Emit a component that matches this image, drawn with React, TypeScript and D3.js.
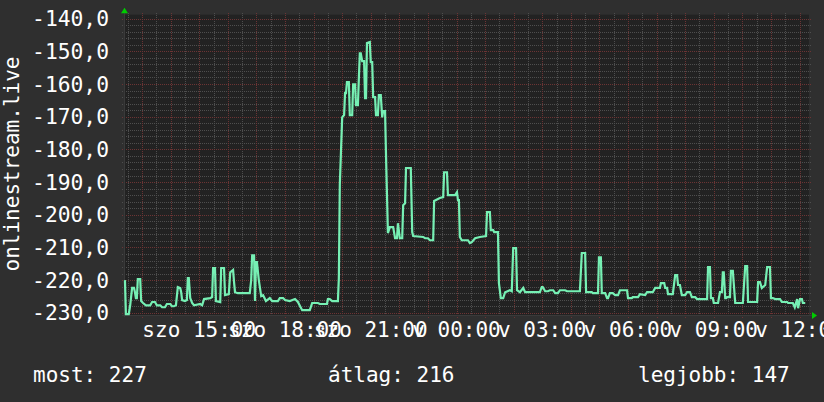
import React from "react";
import * as d3 from "d3";

// minutes after the window start (Sat 12:22) and the measured value at that time
const minutes = [
  2, 4, 10, 13, 17, 21, 23, 25, 27, 29, 34, 36, 40, 46, 55, 59, 65, 69, 76, 80,
  86, 90, 97, 101, 105, 109, 113, 118, 120, 122, 128, 132, 134, 136, 139, 143, 147, 160, 164, 168,
  181, 185, 187, 191, 193, 202, 204, 210, 212, 220, 223, 229, 231, 233, 239, 264, 267, 269, 273, 275,
  277, 279, 283, 288, 292, 298, 306, 311, 323, 327, 334, 338, 348, 359, 365, 374, 390, 395, 407, 411,
  426, 428, 432, 437, 449, 451, 453, 458, 462, 464, 466, 468, 472, 474, 479, 481, 485, 487, 491, 493,
  495, 497, 500, 504, 506, 508, 510, 516, 518, 521, 523, 527, 529, 533, 535, 539, 542, 544, 548, 550,
  554, 558, 565, 569, 573, 575, 579, 584, 586, 590, 592, 602, 605, 607, 628, 632, 638, 642, 649, 651,
  663, 670, 672, 678, 680, 695, 699, 701, 703, 705, 709, 722, 726, 730, 737, 747, 760, 762, 768, 770,
  775, 777, 785, 787, 791, 796, 800, 810, 814, 817, 823, 825, 831, 838, 842, 856, 873, 877, 879, 884,
  890, 894, 901, 905, 911, 915, 926, 930, 957, 961, 968, 970, 982, 984, 995, 997, 1001, 1003, 1010, 1014,
  1016, 1020, 1026, 1031, 1037, 1041, 1056, 1058, 1066, 1068, 1079, 1083, 1094, 1098, 1110, 1115, 1125, 1127, 1134, 1136,
  1140, 1142, 1152, 1157, 1161, 1163, 1167, 1171, 1178, 1182, 1188, 1192, 1199, 1203, 1224, 1226, 1230, 1232, 1236, 1238,
  1247, 1251, 1255, 1257, 1259, 1262, 1264, 1266, 1272, 1274, 1278, 1283, 1299, 1304, 1308, 1310, 1329, 1331, 1335, 1339,
  1346, 1350, 1356, 1358, 1362, 1367, 1377, 1381, 1392, 1394, 1404, 1408, 1413, 1415, 1419, 1423, 1425, 1430,
];

const values = [
  -220.0, -230.4, -230.4, -227.7, -222.4, -222.4, -223.7, -225.5, -225.5, -219.7, -219.7, -226.4, -227.0, -227.7, -227.7, -226.7, -226.7, -227.7, -227.7, -228.3,
  -228.3, -227.3, -227.3, -228.0, -228.0, -227.7, -222.1, -222.4, -223.7, -226.1, -226.4, -226.1, -219.4, -219.4, -225.5, -227.0, -227.7, -227.3, -227.7, -225.8,
  -225.5, -225.2, -216.3, -216.3, -226.4, -226.7, -216.3, -216.3, -224.6, -224.3, -217.6, -216.9, -220.6, -223.7, -224.0, -224.0, -220.0, -212.4, -212.4, -226.4,
  -214.5, -214.5, -220.0, -224.9, -224.6, -226.4, -225.5, -226.4, -226.4, -225.5, -225.5, -226.1, -226.4, -225.8, -226.7, -229.2, -229.2, -227.0, -227.0, -227.3,
  -227.3, -225.8, -225.8, -226.4, -226.4, -219.4, -190.9, -170.2, -169.5, -162.8, -162.8, -159.4, -159.4, -169.5, -169.5, -160.1, -160.1, -166.5, -166.5, -158.2,
  -150.6, -150.6, -153.0, -153.0, -164.3, -164.3, -147.5, -147.2, -153.3, -153.3, -164.0, -164.0, -169.5, -169.5, -163.4, -163.4, -170.2, -168.3, -168.3, -181.8,
  -205.6, -203.8, -203.8, -207.2, -207.2, -202.6, -207.2, -207.2, -197.1, -196.5, -185.7, -185.7, -205.3, -206.5, -206.8, -207.2, -207.2, -207.8, -207.8, -195.8,
  -194.9, -194.6, -187.0, -187.0, -194.0, -194.0, -193.1, -195.5, -195.5, -206.8, -207.8, -207.8, -208.7, -208.4, -207.2, -206.8, -206.5, -199.2, -199.2, -204.7,
  -204.7, -205.3, -205.3, -220.9, -225.5, -225.5, -223.7, -223.1, -223.4, -210.2, -210.2, -223.1, -223.7, -222.4, -223.7, -223.7, -223.7, -222.1, -222.1, -223.4,
  -223.4, -223.1, -223.1, -224.0, -224.0, -223.1, -223.1, -223.4, -223.4, -211.7, -211.7, -223.7, -223.7, -224.0, -224.0, -213.0, -213.0, -224.0, -224.0, -225.5,
  -225.5, -224.0, -224.0, -224.6, -224.6, -223.1, -223.1, -225.5, -225.5, -225.2, -225.2, -224.3, -224.6, -223.7, -223.7, -222.4, -222.4, -220.9, -220.9, -222.4,
  -222.4, -224.3, -224.3, -218.5, -218.5, -221.5, -221.5, -224.6, -224.6, -223.7, -223.7, -225.2, -225.2, -225.8, -225.8, -216.0, -216.0, -225.5, -225.5, -227.0,
  -227.0, -223.7, -223.7, -217.6, -217.6, -225.5, -225.5, -225.2, -225.2, -217.2, -217.2, -227.0, -227.0, -215.7, -215.7, -226.7, -226.7, -220.6, -220.6, -222.4,
  -221.5, -216.0, -216.0, -225.5, -225.5, -225.8, -225.8, -226.7, -226.7, -227.0, -227.0, -228.3, -225.8, -228.6, -225.8, -225.8, -227.0, -227.0,
];

const yTicks = [-230, -220, -210, -200, -190, -180, -170, -160, -150, -140];
const dayNames = ["v", "h", "k", "sze", "cs", "p", "szo"];
const yTitle = "onlinestream.live";
const summaryLabels = ["most", "átlag", "legjobb"];
const summaryValues = [227, 216, 147];

const W = 824;
const H = 402;
const startTime = new Date(2024, 2, 16, 12, 22);
const endTime = new Date(2024, 2, 17, 12, 22);

const FONT = "'DejaVu Sans Mono', monospace";
const BG = "#2f2f2f";
const PLOT_BG = "#222222";
const MINOR = "#4e4e4e";
const MAJOR = "#6c3434";
const LINE = "#76f0b4";
const ARROW = "#00cc00";

export default function App() {
  const left = 124;
  const right = 810;
  const top = 14.7;
  const bottom = 315;

  const x = d3.scaleTime().domain([startTime, endTime]).range([left, right]);
  const y = d3.scaleLinear().domain([-230.67, -138.81]).range([bottom, top]);

  const data = minutes.map((m, i) => ({
    t: new Date(startTime.getTime() + m * 60000),
    v: values[i],
  }));

  const line = d3
    .line<{ t: Date; v: number }>()
    .x((d) => x(d.t))
    .y((d) => y(d.v));

  const halfHours = d3.timeMinute.every(30)!.range(startTime, endTime);
  const minorV = halfHours.filter((d) => d.getMinutes() !== 0);
  const majorV = halfHours.filter((d) => d.getMinutes() === 0);
  const labelTicks = d3.timeHour.every(3)!.range(startTime, endTime);
  const fmt = d3.timeFormat("%H:%M");

  const minorH = d3.range(-230, -138, 2).filter((v) => v % 10 !== 0);
  const snap = (v: number) => Math.round(v) + 0.5;

  const summaryX = [33, 328, 638];

  return (
    <svg
      width={W}
      height={H}
      style={{ position: "fixed", left: 0, top: 0, display: "block" }}
      fontFamily={FONT}
    >
      <rect x={0} y={0} width={W} height={H} fill={BG} />
      <rect x={left} y={top} width={right - 1 - left} height={bottom - top} fill={PLOT_BG} />

      {/* horizontal grid */}
      {minorH.map((v) => (
        <line
          key={"mh" + v}
          x1={left - 2}
          x2={right + 2}
          y1={snap(y(v))}
          y2={snap(y(v))}
          stroke={MINOR}
          strokeDasharray="1,1"
          shapeRendering="crispEdges"
        />
      ))}
      {minorV.map((d) => (
        <line
          key={"mv" + d.getTime()}
          x1={snap(x(d))}
          x2={snap(x(d))}
          y1={top - 2}
          y2={bottom + 2}
          stroke={MINOR}
          strokeDasharray="1,1"
          shapeRendering="crispEdges"
        />
      ))}
      {yTicks.map((v) => (
        <line
          key={"Mh" + v}
          x1={left - 2}
          x2={right + 2}
          y1={snap(y(v))}
          y2={snap(y(v))}
          stroke={MAJOR}
          strokeDasharray="1,1"
          shapeRendering="crispEdges"
        />
      ))}
      {majorV.map((d) => (
        <line
          key={"Mv" + d.getTime()}
          x1={snap(x(d))}
          x2={snap(x(d))}
          y1={top - 2}
          y2={bottom + 3}
          stroke={MAJOR}
          strokeDasharray="1,1"
          shapeRendering="crispEdges"
        />
      ))}

      {/* axes */}
      <line x1={left - 2} x2={right + 3} y1={bottom + 0.5} y2={bottom + 0.5} stroke="#3a3a3a" shapeRendering="crispEdges" />
      <line x1={left + 0.5} x2={left + 0.5} y1={top - 3} y2={bottom + 2} stroke="#3a3a3a" shapeRendering="crispEdges" />
      <path d={`M${left - 3},${top - 1.5} L${left + 0.5},${top - 7} L${left + 4},${top - 1.5} Z`} fill={ARROW} />
      <path d={`M${right + 2},${bottom - 3} L${right + 7},${bottom + 0.5} L${right + 2},${bottom + 4} Z`} fill={ARROW} />

      {/* data line */}
      <path d={line(data) || ""} fill="none" stroke={LINE} strokeWidth={2.2} strokeLinejoin="miter" />

      {/* y tick labels */}
      {yTicks.map((v) => (
        <text key={"yl" + v} x={109} y={y(v) + 7.6} fontSize={21.3} fill="#ffffff" textAnchor="end">
          {d3.format(".1f")(v).replace(".", ",").replace("−", "-")}
        </text>
      ))}

      {/* x tick labels */}
      {labelTicks.map((d) => (
        <text key={"xl" + d.getTime()} x={x(d)} y={337} fontSize={21} fill="#ffffff" textAnchor="middle">
          {`${dayNames[d.getDay()]} ${fmt(d)}`}
        </text>
      ))}

      {/* y title */}
      <text
        transform={`translate(18.5,164) rotate(-90)`}
        fontSize={21}
        fill="#ffffff"
        textAnchor="middle"
      >
        {yTitle}
      </text>

      {/* summary */}
      {summaryLabels.map((s, i) => (
        <text key={"s" + s} x={summaryX[i]} y={381.5} fontSize={21} fill="#ffffff">
          {`${s}: ${summaryValues[i]}`}
        </text>
      ))}
    </svg>
  );
}
